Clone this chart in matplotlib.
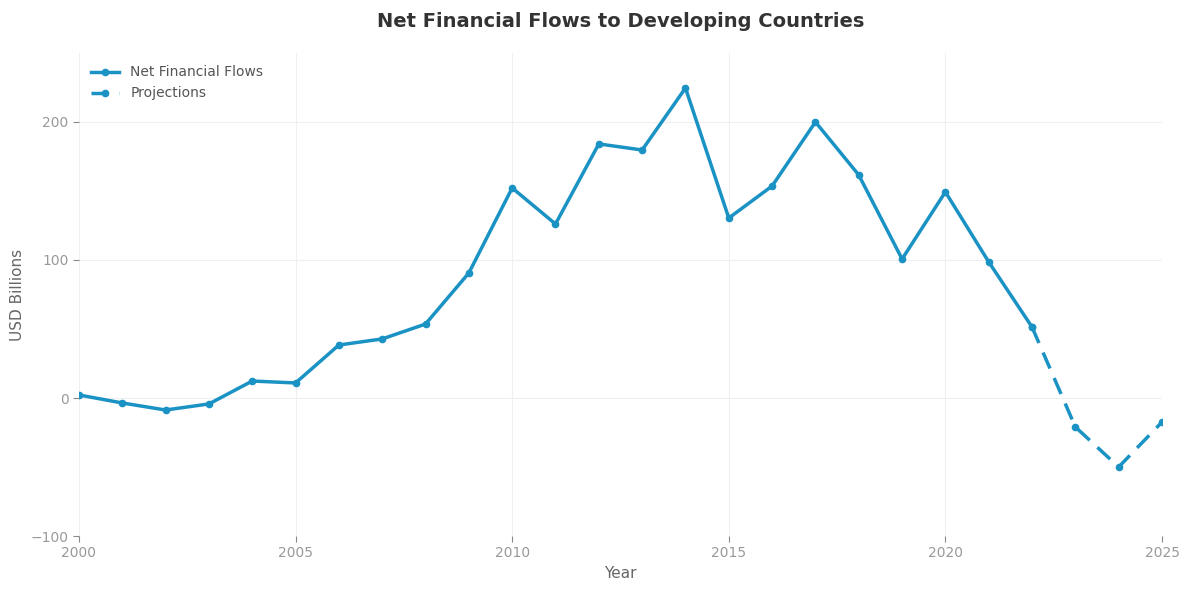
import matplotlib
matplotlib.use("Agg")
import matplotlib.pyplot as plt

plt.rcParams.update({"font.family": "DejaVu Sans"})

YEARS = [2000, 2001, 2002, 2003, 2004, 2005, 2006, 2007, 2008, 2009, 2010,
         2011, 2012, 2013, 2014, 2015, 2016, 2017, 2018, 2019, 2020, 2021, 2022]
FLOWS = [2.2, -3.6, -8.7, -4.3, 12.3, 10.9, 38.4, 42.8, 53.6, 90.6, 152.2,
         126.1, 184.1, 179.7, 224.6, 130.4, 153.6, 200.0, 161.6, 100.7, 149.3, 98.6, 51.4]
PROJ_YEARS = [2022, 2023, 2024, 2025]
PROJ = [51.4, -21.0, -50.0, -17.4]

BLUE = "#1a93c4"

fig, ax = plt.subplots(figsize=(11.89, 5.9), dpi=100)
ax.plot(YEARS, FLOWS, color=BLUE, lw=2.5, marker="o", ms=4.5, label="Net Financial Flows")
ax.plot(PROJ_YEARS, PROJ, color=BLUE, lw=2.5, ls=(0, (5, 3)), marker="o", ms=4.5, label="Projections")

ax.set_xlim(2000, 2025)
ax.set_ylim(-100, 250)
ax.set_yticks([-100, 0, 100, 200])
ax.set_xticks([2000, 2005, 2010, 2015, 2020, 2025])
ax.grid(True, color="#efefef", lw=0.8)
ax.set_axisbelow(True)
for s in ax.spines.values():
    s.set_visible(False)
ax.tick_params(colors="#999999", labelsize=10, length=4, width=0.8)
ax.tick_params(axis="both", color="#888888")

ax.set_xlabel("Year", color="#666666", fontsize=11)
ax.set_ylabel("USD Billions", color="#666666", fontsize=11)
ax.set_title("Net Financial Flows to Developing Countries", fontsize=14,
             fontweight="bold", color="#333333", pad=19)
leg = ax.legend(loc="upper left", frameon=False, fontsize=10)
for t in leg.get_texts():
    t.set_color("#555555")

fig.subplots_adjust(left=0.0664, right=0.9773, top=0.9102, bottom=0.0915)
fig.savefig("out.png", dpi=100)
